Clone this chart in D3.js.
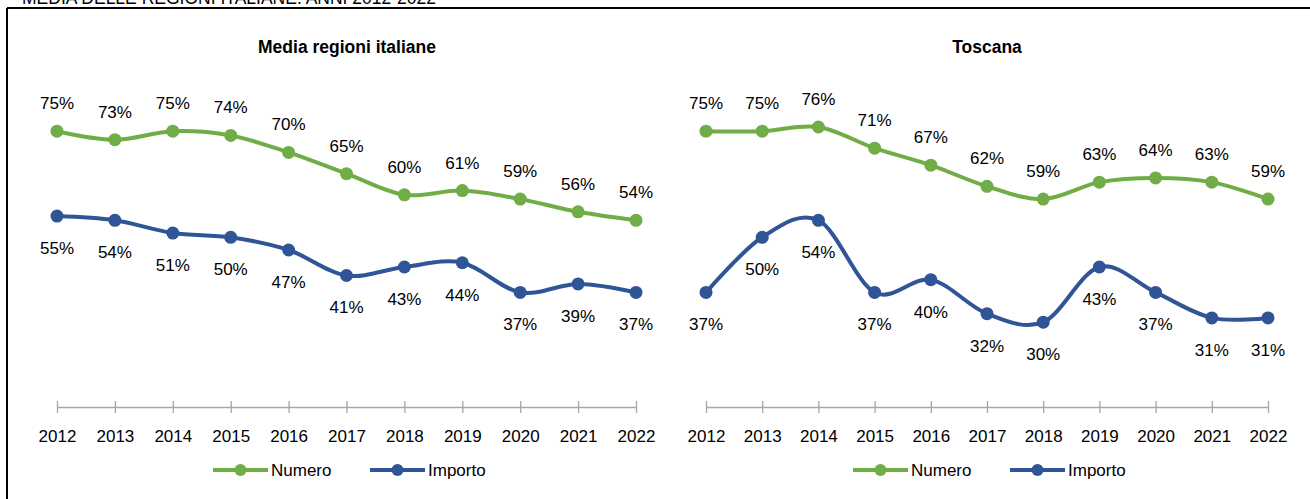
<!DOCTYPE html>
<html>
<head>
<meta charset="utf-8">
<script src="https://cdn.jsdelivr.net/npm/d3@7"></script>
<style>
  body { margin: 0; background: #fff; }
  text { font-family: "Liberation Sans", Arial, sans-serif; fill: #000; }
</style>
</head>
<body>
<div id="chart"></div>
<script>
// dati
var anni = ["2012", "2013", "2014", "2015", "2016", "2017", "2018", "2019", "2020", "2021", "2022"];
var italiaNumero = [75, 73, 75, 74, 70, 65, 60, 61, 59, 56, 54];
var italiaImporto = [55, 54, 51, 50, 47, 41, 43, 44, 37, 39, 37];
var toscanaNumero = [75, 75, 76, 71, 67, 62, 59, 63, 64, 63, 59];
var toscanaImporto = [37, 50, 54, 37, 40, 32, 30, 43, 37, 31, 31];
var titoli = ["Media regioni italiane", "Toscana"];
var serieNomi = ["Numero", "Importo"];

var verde = "#70AD47";
var blu = "#2F5597";

var width = 1310, height = 499;

var svg = d3.select("#chart").append("svg")
  .attr("width", width)
  .attr("height", height);

// titolo tagliato in alto
svg.append("text")
  .attr("x", 22)
  .attr("y", 4)
  .style("font-size", "17.5px")
  .text("MEDIA DELLE REGIONI ITALIANE. ANNI 2012-2022");

// cornice (solo lato sinistro e superiore visibili)
svg.append("line")
  .attr("x1", 7).attr("x2", width).attr("y1", 8).attr("y2", 8)
  .attr("stroke", "#000").attr("stroke-width", 2);
svg.append("line")
  .attr("x1", 7).attr("x2", 7).attr("y1", 8).attr("y2", height)
  .attr("stroke", "#000").attr("stroke-width", 2);

var y = d3.scaleLinear()
  .domain([10, 80])
  .range([407, 110]);

var pannelli = [
  { titolo: titoli[0], numero: italiaNumero, importo: italiaImporto, x0: 57, x1: 636, cx: 347, legX: 213 },
  { titolo: titoli[1], numero: toscanaNumero, importo: toscanaImporto, x0: 706, x1: 1268, cx: 987, legX: 853 }
];

pannelli.forEach(function (p) {
  var g = svg.append("g");

  var x = d3.scalePoint()
    .domain(anni)
    .range([p.x0, p.x1]);

  g.append("text")
    .attr("x", p.cx)
    .attr("y", 53)
    .attr("text-anchor", "middle")
    .style("font-size", "17.5px")
    .style("font-weight", "bold")
    .text(p.titolo);

  // asse x
  var xAxis = d3.axisBottom(x)
    .tickSizeInner(-6)
    .tickSizeOuter(0)
    .tickPadding(0);

  var ax = g.append("g")
    .attr("transform", "translate(0,407)")
    .call(xAxis);
  ax.select(".domain").attr("stroke", "#A6A6A6").attr("stroke-width", 1.3);
  ax.selectAll(".tick line")
    .attr("y1", -6).attr("y2", 6)
    .attr("stroke", "#A6A6A6").attr("stroke-width", 1.3);
  ax.selectAll(".tick text")
    .attr("y", 35)
    .attr("dy", 0)
    .style("font-size", "17px")
    .style("font-family", "Liberation Sans, Arial, sans-serif")
    .attr("fill", "#000");

  var line = d3.line()
    .x(function (d, i) { return x(anni[i]); })
    .y(function (d) { return y(d); })
    .curve(d3.curveCatmullRom.alpha(0));

  var serie = [
    { valori: p.numero, colore: verde, dy: -22 },
    { valori: p.importo, colore: blu, dy: 38 }
  ];

  serie.forEach(function (s) {
    g.append("path")
      .datum(s.valori)
      .attr("d", line)
      .attr("fill", "none")
      .attr("stroke", s.colore)
      .attr("stroke-width", 4)
      .attr("stroke-linecap", "round");

    g.selectAll(null)
      .data(s.valori)
      .enter().append("circle")
      .attr("cx", function (d, i) { return x(anni[i]); })
      .attr("cy", function (d) { return y(d); })
      .attr("r", 6.5)
      .attr("fill", s.colore);

    g.selectAll(null)
      .data(s.valori)
      .enter().append("text")
      .attr("x", function (d, i) { return x(anni[i]); })
      .attr("y", function (d) { return y(d) + s.dy; })
      .attr("text-anchor", "middle")
      .style("font-size", "17px")
      .text(function (d) { return d + "%"; });
  });

  // legenda
  var lx = [p.legX, p.legX + 157];
  serie.forEach(function (s, i) {
    var lg = g.append("g").attr("transform", "translate(" + lx[i] + ",470)");
    lg.append("line")
      .attr("x1", 0).attr("x2", 55)
      .attr("stroke", s.colore).attr("stroke-width", 4);
    lg.append("circle")
      .attr("cx", 27.5).attr("r", 6)
      .attr("fill", s.colore);
    lg.append("text")
      .attr("x", 58)
      .attr("y", 6)
      .style("font-size", "17px")
      .text(serieNomi[i]);
  });
});
</script>
</body>
</html>
